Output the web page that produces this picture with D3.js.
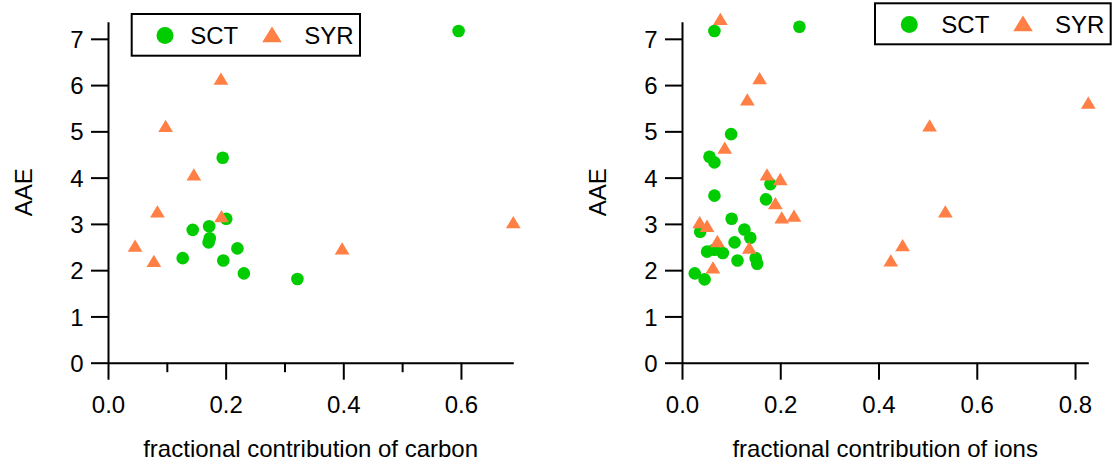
<!DOCTYPE html>
<html>
<head>
<meta charset="utf-8">
<script src="https://cdn.jsdelivr.net/npm/d3@7"></script>
<style>
  body { margin: 0; background: #fff; }
  svg { display: block; }
</style>
</head>
<body>
<div id="chart"></div>
<script>
// series names
const seriesNames = ["SCT", "SYR"];

// AAE vs fractional contribution of carbon (left panel)
const sctCarbon = [
  [0.596, 7.17], [0.195, 4.43], [0.201, 3.11], [0.172, 2.95], [0.144, 2.87],
  [0.173, 2.69], [0.171, 2.60], [0.220, 2.47], [0.127, 2.26], [0.196, 2.21],
  [0.231, 1.93], [0.322, 1.81]
];
const syrCarbon = [
  [0.192, 6.14], [0.098, 5.12], [0.146, 4.07], [0.084, 3.27], [0.193, 3.17],
  [0.046, 2.53], [0.078, 2.20], [0.398, 2.47], [0.689, 3.04]
];

// AAE vs fractional contribution of ions (right panel)
const sctIons = [
  [0.066, 7.17], [0.239, 7.26], [0.100, 4.94], [0.056, 4.45], [0.066, 4.33],
  [0.066, 3.61], [0.180, 3.86], [0.171, 3.53], [0.101, 3.11], [0.037, 2.83],
  [0.127, 2.88], [0.139, 2.70], [0.107, 2.60], [0.051, 2.40], [0.066, 2.44],
  [0.083, 2.37], [0.113, 2.21], [0.150, 2.26], [0.153, 2.14], [0.026, 1.93],
  [0.046, 1.80]
];
const syrIons = [
  [0.078, 7.43], [0.158, 6.15], [0.133, 5.69], [0.087, 4.65], [0.173, 4.07],
  [0.200, 3.97], [0.190, 3.45], [0.203, 3.14], [0.228, 3.18], [0.036, 3.04],
  [0.051, 2.96], [0.072, 2.63], [0.137, 2.49], [0.063, 2.06], [0.504, 5.13],
  [0.827, 5.62], [0.536, 3.27], [0.449, 2.54], [0.425, 2.21]
];

// ticks
const aaeTicks = [0, 1, 2, 3, 4, 5, 6, 7];
const carbonTicks = [0, 0.2, 0.4, 0.6];
const carbonMinorTicks = [0.1, 0.3, 0.5];
const ionTicks = [0, 0.2, 0.4, 0.6, 0.8];

const width = 1113;
const height = 461;
const font = "'Liberation Sans', Arial, sans-serif";
const green = "#00cc00";
const orange = "#ff7f45";

const svg = d3.select("#chart")
  .append("svg")
  .attr("width", width)
  .attr("height", height)
  .attr("viewBox", `0 0 ${width} ${height}`)
  .style("font-family", font);

// common y scale range
const yTop = 21.7;
const yBottom = 362.7;

const panels = [
  {
    sct: sctCarbon, syr: syrCarbon,
    x0: 108, x1: 513.3, xMax: 0.689,
    ticks: carbonTicks, minor: carbonMinorTicks,
    title: "fractional contribution of carbon",
    legend: { x: 131.7, y: 14, w: 228.3, h: 41.7, offs: [33.3, 58.5, 140.3, 172.5] }
  },
  {
    sct: sctIons, syr: syrIons,
    x0: 682, x1: 1088.3, xMax: 0.827,
    ticks: ionTicks, minor: [],
    title: "fractional contribution of ions",
    legend: { x: 875, y: 3.3, w: 235.7, h: 41, offs: [34.3, 66.3, 148, 180] }
  }
];

// triangle centred on its bounding box
const triangle = (w, h) => `M0,${-h / 2}L${w / 2},${h / 2}L${-w / 2},${h / 2}Z`;

function styleAxis(g) {
  g.select(".domain").attr("stroke", "#000").attr("stroke-width", 2);
  g.selectAll(".tick line").attr("stroke", "#000").attr("stroke-width", 2);
  g.selectAll(".tick text")
    .attr("fill", "#000")
    .attr("font-size", "24px")
    .attr("font-family", font);
}

panels.forEach((p) => {
  const x = d3.scaleLinear().domain([0, p.xMax]).range([p.x0, p.x1]);
  const y = d3.scaleLinear().domain([0, 7.37]).range([yBottom, yTop]);

  // minor x ticks
  if (p.minor.length) {
    svg.append("g")
      .attr("transform", `translate(0,${yBottom})`)
      .call(d3.axisBottom(x).tickValues(p.minor).tickSize(9.5).tickSizeOuter(0).tickFormat(""))
      .call(styleAxis)
      .call((g) => g.select(".domain").remove());
  }

  // x axis
  svg.append("g")
    .attr("transform", `translate(0,${yBottom})`)
    .call(d3.axisBottom(x).tickValues(p.ticks).tickSize(17).tickSizeOuter(0)
      .tickPadding(16).tickFormat(d3.format(".1f")))
    .call(styleAxis);

  // y axis
  svg.append("g")
    .attr("transform", `translate(${p.x0},0)`)
    .call(d3.axisLeft(y).tickValues(aaeTicks).tickSize(17).tickSizeOuter(0)
      .tickPadding(7.5).tickFormat(d3.format("d")))
    .call(styleAxis)
    .call((g) => g.selectAll(".tick text").attr("dy", "0.36em"));

  // axis titles
  svg.append("text")
    .attr("x", (p.x0 + p.x1) / 2)
    .attr("y", 456.5)
    .attr("text-anchor", "middle")
    .attr("font-size", "24px")
    .text(p.title);

  svg.append("text")
    .attr("transform", `translate(${p.x0 - 76.5},${(yTop + yBottom) / 2}) rotate(-90)`)
    .attr("text-anchor", "middle")
    .attr("font-size", "24px")
    .text("AAE");

  // SCT circles
  svg.append("g")
    .selectAll("circle")
    .data(p.sct)
    .join("circle")
    .attr("cx", (d) => x(d[0]))
    .attr("cy", (d) => y(d[1]))
    .attr("r", 6.3)
    .attr("fill", green);

  // SYR triangles (drawn on top)
  svg.append("g")
    .selectAll("path")
    .data(p.syr)
    .join("path")
    .attr("transform", (d) => `translate(${x(d[0])},${y(d[1])})`)
    .attr("d", triangle(14.7, 12.3))
    .attr("fill", orange);

  // legend
  const L = p.legend;
  const lg = svg.append("g").attr("transform", `translate(${L.x},${L.y})`);
  lg.append("rect")
    .attr("width", L.w)
    .attr("height", L.h)
    .attr("fill", "#fff")
    .attr("stroke", "#000")
    .attr("stroke-width", 2);
  const cy = L.h / 2 + 0.6;
  lg.append("circle")
    .attr("cx", L.offs[0])
    .attr("cy", cy)
    .attr("r", 8.5)
    .attr("fill", green);
  lg.append("path")
    .attr("transform", `translate(${L.offs[2]},${cy - 1})`)
    .attr("d", triangle(19.5, 15.7))
    .attr("fill", orange);
  [seriesNames[0], seriesNames[1]].forEach((name, i) => {
    lg.append("text")
      .attr("x", L.offs[1 + i * 2])
      .attr("y", cy + 8.6)
      .attr("font-size", "24px")
      .text(name);
  });
});
</script>
</body>
</html>
